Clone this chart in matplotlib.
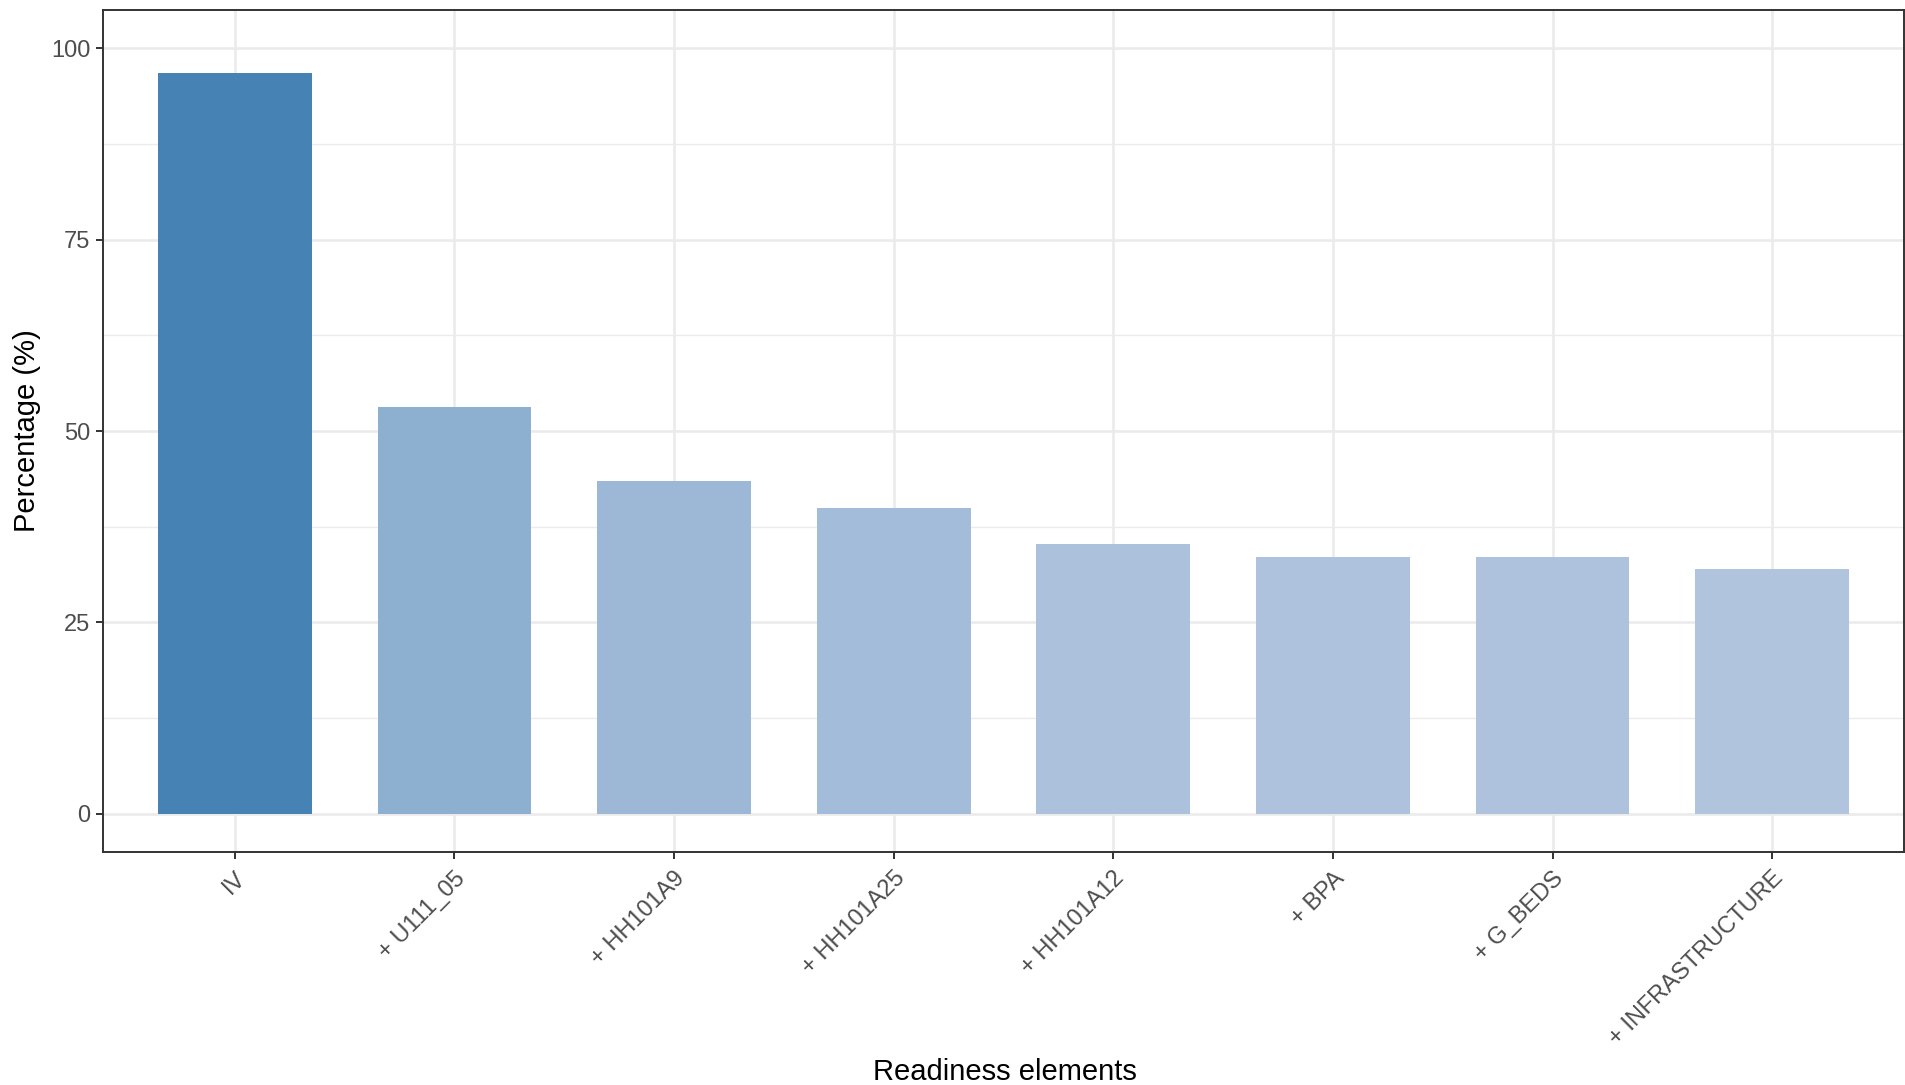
import matplotlib
matplotlib.use("Agg")
import matplotlib.pyplot as plt
from matplotlib.colors import LinearSegmentedColormap, Normalize
from matplotlib.ticker import FixedLocator

categories = ["IV", "+ U111_05", "+ HH101A9", "+ HH101A25", "+ HH101A12",
              "+ BPA", "+ G_BEDS", "+ INFRASTRUCTURE"]
values = [96.8, 53.2, 43.5, 40.0, 35.3, 33.6, 33.6, 32.0]
y_ticks = [0, 25, 50, 75, 100]
y_minor = [12.5, 37.5, 62.5, 87.5]

plt.rcParams['font.family'] = ['Liberation Sans', 'DejaVu Sans']

fig = plt.figure(figsize=(19.05, 10.85), dpi=100)
ax = fig.add_axes([103/1905, 1 - 852/1085, 1801/1905, 842/1085])

cmap = LinearSegmentedColormap.from_list("sb", ["#B0C4DE", "#4682B4"])
norm = Normalize(vmin=min(values), vmax=max(values))
x = list(range(1, len(categories) + 1))
ax.bar(x, values, width=0.7, color=[cmap(norm(v)) for v in values], zorder=3)

ax.set_xlim(0.4, len(categories) + 0.6)
ax.set_ylim(-5, 105)
ax.set_xticks(x)
ax.set_xticklabels(categories, rotation=45, ha='right', va='top',
                   rotation_mode='anchor')
ax.set_yticks(y_ticks)
ax.yaxis.set_minor_locator(FixedLocator(y_minor))

ax.grid(True, which='major', color='#EBEBEB', linewidth=1.9, zorder=0)
ax.grid(True, which='minor', axis='y', color='#EBEBEB', linewidth=1.0, zorder=0)
ax.set_axisbelow(True)

for s in ax.spines.values():
    s.set_color('#333333')
    s.set_linewidth(1.4)

ax.tick_params(axis='both', which='major', colors='#333333', length=5,
               width=1.4, labelsize=17, labelcolor='#4D4D4D')
ax.tick_params(axis='x', pad=6)
ax.tick_params(axis='y', pad=4)
ax.tick_params(which='minor', length=0)

fig.text(1005/1905, 1 - 1080/1085, "Readiness elements", fontsize=21,
         ha='center', va='baseline', color='black')
fig.text(27/1905, 1 - 431/1085, "Percentage (%)", fontsize=21, rotation=90,
         ha='center', va='center', color='black')

fig.savefig("out.png", dpi=100)
